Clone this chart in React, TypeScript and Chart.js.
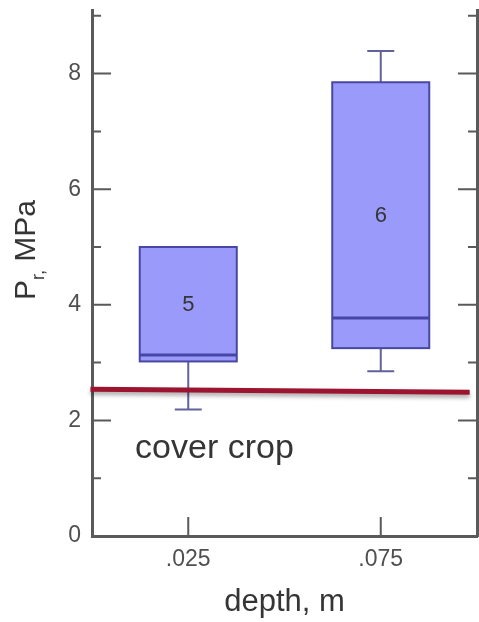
import React, { useEffect, useRef } from "react";
import { Chart, registerables } from "chart.js";

Chart.register(...registerables);

// Sampling depths (m) and box-plot statistics of penetration resistance (MPa)
const depths = [0.025, 0.075];
const whiskerLow = [2.19, 2.85];
const quartile1 = [3.02, 3.25];
const medians = [3.13, 3.77];
const quartile3 = [5.0, 7.85];
const whiskerHigh = [5.0, 8.39];
const sampleCounts = ["5", "6"];
const countLabelY = [4.0, 5.53];

// Critical resistance reference line
const refLineX = [-0.0004, 0.0981];
const refLineY = [2.54, 2.485];

// Axis ticks
const yMajorTicks = [0, 2, 4, 6, 8];
const yMinorTicks = [1, 3, 5, 7, 9];
const xTicks = [0.025, 0.075];

const annotationText = "cover crop";
const annotationX = 0.0112;
const annotationY = 1.35;

const BOX_WIDTH = 0.0252; // in depth units
const CAP_WIDTH = 0.007;

const FONT = "'Liberation Sans', Arial, Helvetica, sans-serif";
const AXIS_COLOR = "#5a5a5a";
const TEXT_COLOR = "#353535";

const boxPlugin = {
  id: "boxes",
  beforeDatasetsDraw(chart: any) {
    const { ctx, scales } = chart;
    const x = scales.x;
    const y = scales.y;
    ctx.save();
    depths.forEach((d, i) => {
      const xl = x.getPixelForValue(d - BOX_WIDTH / 2);
      const xr = x.getPixelForValue(d + BOX_WIDTH / 2);
      const xc = x.getPixelForValue(d);
      const cw = x.getPixelForValue(CAP_WIDTH) - x.getPixelForValue(0);
      const yq1 = y.getPixelForValue(quartile1[i]);
      const yq3 = y.getPixelForValue(quartile3[i]);
      const ym = y.getPixelForValue(medians[i]);
      const ylo = y.getPixelForValue(whiskerLow[i]);
      const yhi = y.getPixelForValue(whiskerHigh[i]);

      // whiskers
      ctx.strokeStyle = "#62629a";
      ctx.lineWidth = 2;
      ctx.beginPath();
      if (whiskerLow[i] < quartile1[i]) {
        ctx.moveTo(xc, yq1);
        ctx.lineTo(xc, ylo);
        ctx.moveTo(xc - cw / 2, ylo);
        ctx.lineTo(xc + cw / 2, ylo);
      }
      if (whiskerHigh[i] > quartile3[i]) {
        ctx.moveTo(xc, yq3);
        ctx.lineTo(xc, yhi);
        ctx.moveTo(xc - cw / 2, yhi);
        ctx.lineTo(xc + cw / 2, yhi);
      }
      ctx.stroke();

      // box body
      ctx.fillStyle = "#9a9afa";
      ctx.fillRect(xl, yq3, xr - xl, yq1 - yq3);
      ctx.strokeStyle = "#4848a2";
      ctx.lineWidth = 2;
      ctx.strokeRect(xl, yq3, xr - xl, yq1 - yq3);

      // median
      ctx.strokeStyle = "#4646a6";
      ctx.lineWidth = 3;
      ctx.beginPath();
      ctx.moveTo(xl, ym);
      ctx.lineTo(xr, ym);
      ctx.stroke();
    });

    // inward tick marks on all three axes
    ctx.strokeStyle = AXIS_COLOR;
    ctx.lineWidth = 2;
    ctx.beginPath();
    const area = chart.chartArea;
    const drawY = (v: number, len: number) => {
      const py = y.getPixelForValue(v);
      ctx.moveTo(area.left, py);
      ctx.lineTo(area.left + len, py);
      ctx.moveTo(area.right, py);
      ctx.lineTo(area.right - len, py);
    };
    yMajorTicks.forEach((v) => drawY(v, 19));
    yMinorTicks.forEach((v) => drawY(v, 9));
    xTicks.forEach((v) => {
      const px = x.getPixelForValue(v);
      ctx.moveTo(px, area.bottom);
      ctx.lineTo(px, area.bottom - 19);
    });
    ctx.stroke();
    ctx.restore();
  },
  beforeDatasetDraw(chart: any) {
    const { ctx } = chart;
    ctx.save();
    ctx.shadowColor = "rgba(0,0,0,0.35)";
    ctx.shadowBlur = 4;
    ctx.shadowOffsetY = 3;
  },
  afterDatasetDraw(chart: any) {
    chart.ctx.restore();
  },
  afterDatasetsDraw(chart: any) {
    const { ctx, scales } = chart;
    const x = scales.x;
    const y = scales.y;
    ctx.save();
    ctx.fillStyle = TEXT_COLOR;
    ctx.textAlign = "center";
    ctx.textBaseline = "middle";
    ctx.font = `22px ${FONT}`;
    depths.forEach((d, i) => {
      ctx.fillText(sampleCounts[i], x.getPixelForValue(d), y.getPixelForValue(countLabelY[i]));
    });

    ctx.textAlign = "left";
    ctx.textBaseline = "alphabetic";
    ctx.font = `34px ${FONT}`;
    ctx.fillText(annotationText, x.getPixelForValue(annotationX), y.getPixelForValue(annotationY));

    // y-axis title with subscript: P_r, MPa
    ctx.translate(35, 300);
    ctx.rotate(-Math.PI / 2);
    ctx.font = `30px ${FONT}`;
    ctx.fillText("P", 0, 0);
    let w = ctx.measureText("P").width;
    ctx.font = `18px ${FONT}`;
    ctx.fillText("r,", w, 9);
    w += ctx.measureText("r,").width;
    ctx.font = `30px ${FONT}`;
    ctx.fillText(" MPa", w, 0);
    ctx.restore();
  },
};

const noLabelPadding = (s: any) => {
  s.paddingTop = 0;
  s.paddingBottom = 0;
};

export default function App() {
  const canvasRef = useRef<HTMLCanvasElement | null>(null);

  useEffect(() => {
    const canvas = canvasRef.current;
    if (!canvas) return;
    const chart = new Chart(canvas, {
      type: "line",
      data: {
        datasets: [
          {
            data: refLineX.map((v, i) => ({ x: v, y: refLineY[i] })),
            borderColor: "#9c1430",
            borderWidth: 5,
            borderCapStyle: "butt",
            pointRadius: 0,
            clip: false as any,
            tension: 0,
          },
        ],
      },
      options: {
        responsive: false,
        animation: false,
        events: [],
        layout: { padding: { top: 10, left: 0, right: 0, bottom: 0 } },
        plugins: { legend: { display: false }, tooltip: { enabled: false } },
        scales: {
          x: {
            type: "linear",
            position: "bottom",
            min: 0,
            max: 0.1,
            afterFit: (s: any) => {
              s.height = 86;
              s.paddingLeft = 0;
              s.paddingRight = 0;
            },
            afterBuildTicks: (s: any) => {
              s.ticks = xTicks.map((v) => ({ value: v }));
            },
            grid: { display: false, drawTicks: false },
            border: { display: true, color: AXIS_COLOR, width: 3 },
            ticks: {
              padding: 10,
              color: "#505050",
              font: { family: FONT, size: 23 },
              maxRotation: 0,
              callback: (v: any) => String(v).replace(/^0/, ""),
            },
            title: {
              display: true,
              text: "depth, m",
              color: TEXT_COLOR,
              font: { family: FONT, size: 31 },
              padding: { top: 0, bottom: 1 },
            },
          },
          y: {
            type: "linear",
            position: "left",
            min: 0,
            max: 9.1,
            afterFit: (s: any) => {
              s.width = 92;
              noLabelPadding(s);
            },
            afterBuildTicks: (s: any) => {
              s.ticks = yMajorTicks.map((v) => ({ value: v }));
            },
            grid: { display: false, drawTicks: false },
            border: { display: true, color: AXIS_COLOR, width: 3 },
            ticks: {
              padding: 11,
              color: "#505050",
              font: { family: FONT, size: 23 },
            },
          },
          yRight: {
            type: "linear",
            position: "right",
            min: 0,
            max: 9.1,
            afterFit: (s: any) => {
              s.width = 2;
              noLabelPadding(s);
            },
            grid: { display: false, drawTicks: false },
            border: { display: true, color: AXIS_COLOR, width: 3 },
            ticks: { display: false },
          },
        },
      },
      plugins: [boxPlugin],
    } as any);
    return () => chart.destroy();
  }, []);

  return (
    <div style={{ position: "fixed", left: 0, top: 0, width: 479, height: 622, background: "#fff" }}>
      <canvas ref={canvasRef} width={479} height={622} style={{ display: "block" }} />
    </div>
  );
}
